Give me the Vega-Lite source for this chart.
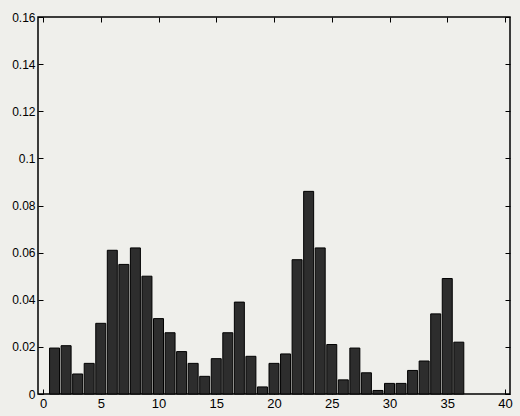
{
  "$schema": "https://vega.github.io/schema/vega-lite/v6.json",
  "autosize": "none",
  "width": 472,
  "height": 377,
  "padding": {"left": 38, "top": 17, "right": 10, "bottom": 22},
  "background": "#efefeb",
  "data": {"values": [
    {"k": 1, "v": 0.0195}, {"k": 2, "v": 0.0205}, {"k": 3, "v": 0.0085}, {"k": 4, "v": 0.013},
    {"k": 5, "v": 0.030}, {"k": 6, "v": 0.061}, {"k": 7, "v": 0.055}, {"k": 8, "v": 0.062},
    {"k": 9, "v": 0.050}, {"k": 10, "v": 0.032}, {"k": 11, "v": 0.026}, {"k": 12, "v": 0.018},
    {"k": 13, "v": 0.013}, {"k": 14, "v": 0.0075}, {"k": 15, "v": 0.015}, {"k": 16, "v": 0.026},
    {"k": 17, "v": 0.039}, {"k": 18, "v": 0.016}, {"k": 19, "v": 0.003}, {"k": 20, "v": 0.013},
    {"k": 21, "v": 0.017}, {"k": 22, "v": 0.057}, {"k": 23, "v": 0.086}, {"k": 24, "v": 0.062},
    {"k": 25, "v": 0.021}, {"k": 26, "v": 0.006}, {"k": 27, "v": 0.0195}, {"k": 28, "v": 0.009},
    {"k": 29, "v": 0.0015}, {"k": 30, "v": 0.0045}, {"k": 31, "v": 0.0045}, {"k": 32, "v": 0.010},
    {"k": 33, "v": 0.014}, {"k": 34, "v": 0.034}, {"k": 35, "v": 0.049}, {"k": 36, "v": 0.022}
  ]},
  "layer": [
    {
      "mark": {"type": "bar", "size": 10, "color": "#2d2d2d", "stroke": "#000000", "strokeWidth": 1},
      "encoding": {
        "x": {"field": "k", "type": "quantitative", "scale": {"domain": [0, 40], "nice": false},
          "axis": {"orient": "bottom", "values": [0, 5, 10, 15, 20, 25, 30, 35, 40], "title": null, "grid": false,
            "tickSize": -5, "labelPadding": 8, "domain": false, "tickColor": "#000", "labelColor": "#000",
            "labelFont": "Liberation Sans", "labelFontSize": 13}},
        "y": {"field": "v", "type": "quantitative", "scale": {"domain": [0, 0.16], "nice": false},
          "axis": {"orient": "left", "values": [0, 0.02, 0.04, 0.06, 0.08, 0.1, 0.12, 0.14, 0.16], "format": "~g",
            "title": null, "grid": false, "tickSize": -5, "labelPadding": 8, "domain": false, "tickColor": "#000",
            "labelColor": "#000", "labelFont": "Liberation Sans", "labelFontSize": 12}}
      }
    },
    {
      "mark": {"type": "bar", "size": 10, "opacity": 0},
      "encoding": {
        "x": {"field": "k", "type": "quantitative",
          "axis": {"orient": "top", "values": [0, 5, 10, 15, 20, 25, 30, 35, 40], "labels": false, "title": null,
            "grid": false, "tickSize": -5, "domain": false, "tickColor": "#000"}},
        "y": {"field": "v", "type": "quantitative",
          "axis": {"orient": "right", "values": [0, 0.02, 0.04, 0.06, 0.08, 0.1, 0.12, 0.14, 0.16], "labels": false,
            "title": null, "grid": false, "tickSize": -5, "domain": false, "tickColor": "#000"}}
      }
    }
  ],
  "config": {"view": {"stroke": "#000000", "strokeWidth": 1.5, "fill": "#efefeb"}}
}
